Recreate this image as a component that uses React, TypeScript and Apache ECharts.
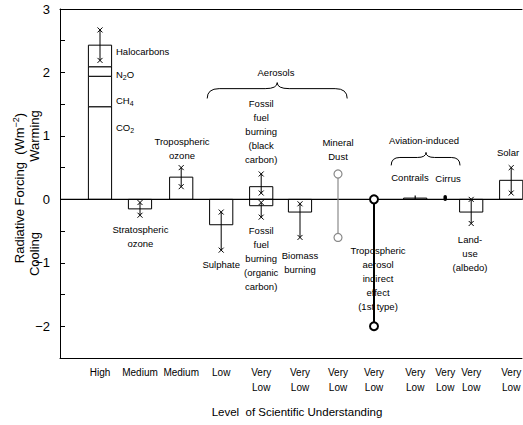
import React, { useEffect, useRef } from 'react';
import * as echarts from 'echarts';

const FONT = '"Liberation Sans", Arial, Helvetica, sans-serif';
const INK = '#000';
const HALF = 0.29; // half box width, in axis units
const X_MAX = 11.55;

// forcing agents, one column each, with their level of scientific understanding
const columns = [
  'Greenhouse gases', 'Stratospheric ozone', 'Tropospheric ozone', 'Sulphate',
  'Fossil fuel burning', 'Biomass burning', 'Mineral dust', 'Aerosol indirect effect',
  'Contrails', 'Cirrus', 'Land-use', 'Solar',
];
const understanding = [
  'High', 'Medium', 'Medium', 'Low', 'Very\nLow', 'Very\nLow', 'Very\nLow', 'Very\nLow',
  'Very\nLow', 'Very\nLow', 'Very\nLow', 'Very\nLow',
];
const columnX = [1.0, 2.0, 3.03, 4.03, 5.03, 6.0, 6.95, 7.85, 8.88, 9.63, 10.28, 11.28];

// well-mixed greenhouse gases, stacked: CO2, CH4, N2O, halocarbons (W m-2)
const ghgGases = ['CO2', 'CH4', 'N2O', 'Halocarbons'];
const ghgForcing = [1.46, 0.48, 0.15, 0.34];

// single-box forcings (column index, W m-2)
const boxColumn = [1, 2, 3, 4, 4, 5, 8, 10, 11];
const boxForcing = [-0.15, 0.35, -0.4, 0.2, -0.1, -0.2, 0.02, -0.2, 0.3];

// uncertainty ranges ending in x marks
const rangeColumn = [0, 1, 2, 3, 4, 4, 5, 10, 11];
const rangeLow = [2.19, -0.25, 0.2, -0.8, 0.1, -0.28, -0.6, -0.38, 0.1];
const rangeHigh = [2.67, -0.05, 0.5, -0.2, 0.4, -0.05, -0.07, 0, 0.5];

// ranges with no best estimate (mineral dust, aerosol indirect effect)
const openColumn = [6, 7];
const openLow = [-0.6, -2.0];
const openHigh = [0.4, 0.0];

// aviation-induced ranges (contrails, cirrus)
const aviationColumn = [8, 9];
const aviationLow = [0.005, 0.0];
const aviationHigh = [0.06, 0.04];

const yTicks = [-2, -1, 0, 1, 2, 3];

// annotation layout: [x, y] anchor in axis units, text, align
const notes: [number, number, string, string][] = [
  [1.4, 2.33, 'Halocarbons', 'left'],
  [1.4, 1.965, '{n|N}{s|2}{n|O}', 'left'],
  [1.4, 1.557, '{n|CH}{s|4}', 'left'],
  [1.4, 1.132, '{n|CO}{s|2}', 'left'],
  [3.05, 0.8, 'Tropospheric\nozone', 'center'],
  [2.01, -0.58, 'Stratospheric\nozone', 'center'],
  [4.03, -1.02, 'Sulphate', 'center'],
  [5.03, 1.07, 'Fossil\nfuel\nburning\n(black\ncarbon)', 'center'],
  [5.03, -0.93, 'Fossil\nfuel\nburning\n(organic\ncarbon)', 'center'],
  [6.0, -1.0, 'Biomass\nburning', 'center'],
  [6.95, 0.79, 'Mineral\nDust', 'center'],
  [5.4, 2.0, 'Aerosols', 'center'],
  [7.95, -1.24, 'Tropospheric\naerosol\nindirect\neffect\n(1st type)', 'center'],
  [9.1, 0.93, 'Aviation-induced', 'center'],
  [8.75, 0.35, 'Contrails', 'center'],
  [9.7, 0.33, 'Cirrus', 'center'],
  [10.25, -0.85, 'Land-\nuse\n(albedo)', 'center'],
  [11.2, 0.74, 'Solar', 'center'],
];

// curly braces: left x, tip x, right x, end y, flat y, tip y (axis units)
const braces = [
  [3.68, 5.43, 7.18, 1.59, 1.745, 1.84],
  [8.28, 9.15, 10.0, 0.535, 0.66, 0.74],
];

const lineStyle = { stroke: INK, lineWidth: 1 };

function cross(p: number[], s: number) {
  return [
    { type: 'line', shape: { x1: p[0] - s, y1: p[1] - s, x2: p[0] + s, y2: p[1] + s }, style: lineStyle },
    { type: 'line', shape: { x1: p[0] - s, y1: p[1] + s, x2: p[0] + s, y2: p[1] - s }, style: lineStyle },
  ];
}

function buildOption() {
  const boxes: number[][] = [];
  let base = 0;
  ghgForcing.forEach((v) => {
    boxes.push([columnX[0], base, base + v]);
    base += v;
  });
  boxColumn.forEach((c, i) => boxes.push([columnX[c], 0, boxForcing[i]]));

  const ranges = rangeColumn.map((c, i) => [columnX[c], rangeLow[i], rangeHigh[i]]);
  const opens = openColumn.map((c, i) => [columnX[c], openLow[i], openHigh[i]]);
  const aviation = aviationColumn.map((c, i) => [columnX[c], aviationLow[i], aviationHigh[i]]);

  return {
    animation: false,
    backgroundColor: '#fff',
    grid: { left: 60, right: 1, top: 9, bottom: 67 },
    xAxis: [
      {
        type: 'value', min: 0, max: X_MAX,
        axisLine: { show: true, onZero: false, lineStyle: { color: INK, width: 1 } },
        axisTick: { show: false }, axisLabel: { show: false }, splitLine: { show: false },
      },
      {
        type: 'value', position: 'top', min: 0, max: X_MAX,
        axisLine: { show: true, onZero: false, lineStyle: { color: INK, width: 1 } },
        axisTick: { show: false }, axisLabel: { show: false }, splitLine: { show: false },
      },
    ],
    yAxis: {
      type: 'value', min: -2.5, max: 3, interval: 0.5,
      axisLine: { show: true, onZero: false, lineStyle: { color: INK, width: 1 } },
      axisTick: { show: true, inside: true, length: 5, lineStyle: { color: INK } },
      splitLine: { show: false },
      axisLabel: {
        color: INK, fontSize: 13, fontFamily: FONT, margin: 10,
        formatter: (v: number) => (yTicks.includes(v) ? String(v).replace('-', '\u2212') : ''),
      },
    },
    graphic: [
      {
        type: 'text', x: 19, y: 188, rotation: Math.PI / 2,
        style: {
          text: '{a|Radiative Forcing  (Wm}{b|\u22122}{a|)}',
          rich: {
            a: { fontSize: 13, fontFamily: FONT, fill: INK },
            b: { fontSize: 9, fontFamily: FONT, fill: INK, padding: [0, 0, 7, 0] },
          },
          align: 'center', verticalAlign: 'middle',
        },
      },
      {
        type: 'text', x: 34, y: 136, rotation: Math.PI / 2,
        style: { text: 'Warming', fontSize: 13, fontFamily: FONT, fill: INK, align: 'center', verticalAlign: 'middle' },
      },
      {
        type: 'text', x: 34, y: 254, rotation: Math.PI / 2,
        style: { text: 'Cooling', fontSize: 13, fontFamily: FONT, fill: INK, align: 'center', verticalAlign: 'middle' },
      },
      {
        type: 'text', x: 297, y: 412,
        style: { text: 'Level  of Scientific Understanding', fontSize: 11.5, fontFamily: FONT, fill: INK, align: 'center', verticalAlign: 'middle' },
      },
    ],
    series: [
      {
        name: 'forcing',
        type: 'custom',
        data: boxes,
        z: 2,
        renderItem: (params: any, api: any) => {
          const x = api.value(0);
          const a = api.value(1);
          const b = api.value(2);
          const tl = api.coord([x - HALF, Math.max(a, b)]);
          const br = api.coord([x + HALF, Math.min(a, b)]);
          return {
            type: 'rect',
            shape: { x: tl[0], y: tl[1], width: br[0] - tl[0], height: br[1] - tl[1] },
            style: { fill: '#fff', stroke: INK, lineWidth: 1 },
          };
        },
      },
      {
        name: 'zero',
        type: 'custom',
        data: [[0, 0]],
        z: 3,
        renderItem: (params: any, api: any) => {
          const a = api.coord([0, 0]);
          const b = api.coord([X_MAX, 0]);
          return { type: 'line', shape: { x1: a[0], y1: a[1], x2: b[0], y2: b[1] }, style: { stroke: INK, lineWidth: 1.2 } };
        },
      },
      {
        name: 'uncertainty',
        type: 'custom',
        data: ranges,
        z: 4,
        renderItem: (params: any, api: any) => {
          const x = api.value(0);
          const lo = api.coord([x, api.value(1)]);
          const hi = api.coord([x, api.value(2)]);
          return {
            type: 'group',
            children: [
              { type: 'line', shape: { x1: lo[0], y1: lo[1], x2: hi[0], y2: hi[1] }, style: lineStyle },
              ...cross(lo, 2.5),
              ...cross(hi, 2.5),
            ],
          };
        },
      },
      {
        name: 'open ranges',
        type: 'custom',
        data: opens,
        z: 5,
        renderItem: (params: any, api: any) => {
          const x = api.value(0);
          const lo = api.coord([x, api.value(1)]);
          const hi = api.coord([x, api.value(2)]);
          const dust = params.dataIndex === 0;
          const color = dust ? '#8a8a8a' : INK;
          const w = dust ? 1.2 : 2;
          return {
            type: 'group',
            children: [
              { type: 'line', shape: { x1: lo[0], y1: lo[1], x2: hi[0], y2: hi[1] }, style: { stroke: color, lineWidth: w } },
              { type: 'circle', shape: { cx: lo[0], cy: lo[1], r: 4 }, style: { fill: '#fff', stroke: color, lineWidth: w } },
              { type: 'circle', shape: { cx: hi[0], cy: hi[1], r: 4 }, style: { fill: '#fff', stroke: color, lineWidth: w } },
            ],
          };
        },
      },
      {
        name: 'aviation',
        type: 'custom',
        data: aviation,
        z: 5,
        renderItem: (params: any, api: any) => {
          const x = api.value(0);
          const lo = api.coord([x, api.value(1)]);
          const hi = api.coord([x, api.value(2)]);
          const cirrus = params.dataIndex === 1;
          return {
            type: 'line',
            shape: { x1: lo[0], y1: lo[1], x2: hi[0], y2: hi[1] },
            style: { stroke: INK, lineWidth: cirrus ? 3.5 : 1.2, lineCap: cirrus ? 'round' : 'butt' },
          };
        },
      },
      {
        name: 'braces',
        type: 'custom',
        data: braces.map((b, i) => [b[0], b[3], i]),
        z: 5,
        renderItem: (params: any, api: any) => {
          const b = braces[params.dataIndex];
          const L = api.coord([b[0], b[3]]);
          const T = api.coord([b[1], b[5]]);
          const R = api.coord([b[2], b[3]]);
          const yF = api.coord([b[0], b[4]])[1];
          const r = Math.min(12, (T[0] - L[0]) / 4);
          const d =
            `M${L[0]},${L[1]} Q${L[0]},${yF} ${L[0] + r},${yF} L${T[0] - r},${yF} ` +
            `Q${T[0]},${yF} ${T[0]},${T[1]} Q${T[0]},${yF} ${T[0] + r},${yF} ` +
            `L${R[0] - r},${yF} Q${R[0]},${yF} ${R[0]},${R[1]}`;
          return { type: 'path', shape: { pathData: d }, style: { fill: 'none', stroke: INK, lineWidth: 1 } };
        },
      },
      {
        name: 'notes',
        type: 'custom',
        data: notes.map((n) => [n[0], n[1]]),
        z: 6,
        renderItem: (params: any, api: any) => {
          const n = notes[params.dataIndex];
          const p = api.coord([n[0], n[1]]);
          return {
            type: 'text',
            x: p[0],
            y: p[1],
            style: {
              text: n[2],
              fontSize: 9.5,
              fontFamily: FONT,
              fill: INK,
              lineHeight: 14,
              align: n[3],
              verticalAlign: 'middle',
              rich: {
                n: { fontSize: 9.5, fontFamily: FONT, fill: INK },
                s: { fontSize: 7, fontFamily: FONT, fill: INK, padding: [6, 0, 0, 0] },
              },
            },
          };
        },
      },
      {
        name: 'understanding',
        type: 'custom',
        data: columns.map((c, i) => [columnX[i], -2.5]),
        z: 6,
        renderItem: (params: any, api: any) => {
          const p = api.coord([columnX[params.dataIndex], -2.5]);
          return {
            type: 'text',
            x: p[0],
            y: p[1] + 7,
            style: {
              text: understanding[params.dataIndex],
              fontSize: 10,
              fontFamily: FONT,
              fill: INK,
              lineHeight: 15,
              align: 'center',
              verticalAlign: 'top',
            },
          };
        },
      },
    ],
  };
}

export default function App() {
  const ref = useRef<HTMLDivElement>(null);
  useEffect(() => {
    if (!ref.current) return;
    const chart = echarts.init(ref.current, undefined, { renderer: 'svg' });
    chart.setOption(buildOption() as any);
    return () => chart.dispose();
  }, []);
  return (
    <div
      ref={ref}
      style={{ position: 'fixed', left: 0, top: 0, width: 523, height: 425, background: '#fff' }}
    />
  );
}
